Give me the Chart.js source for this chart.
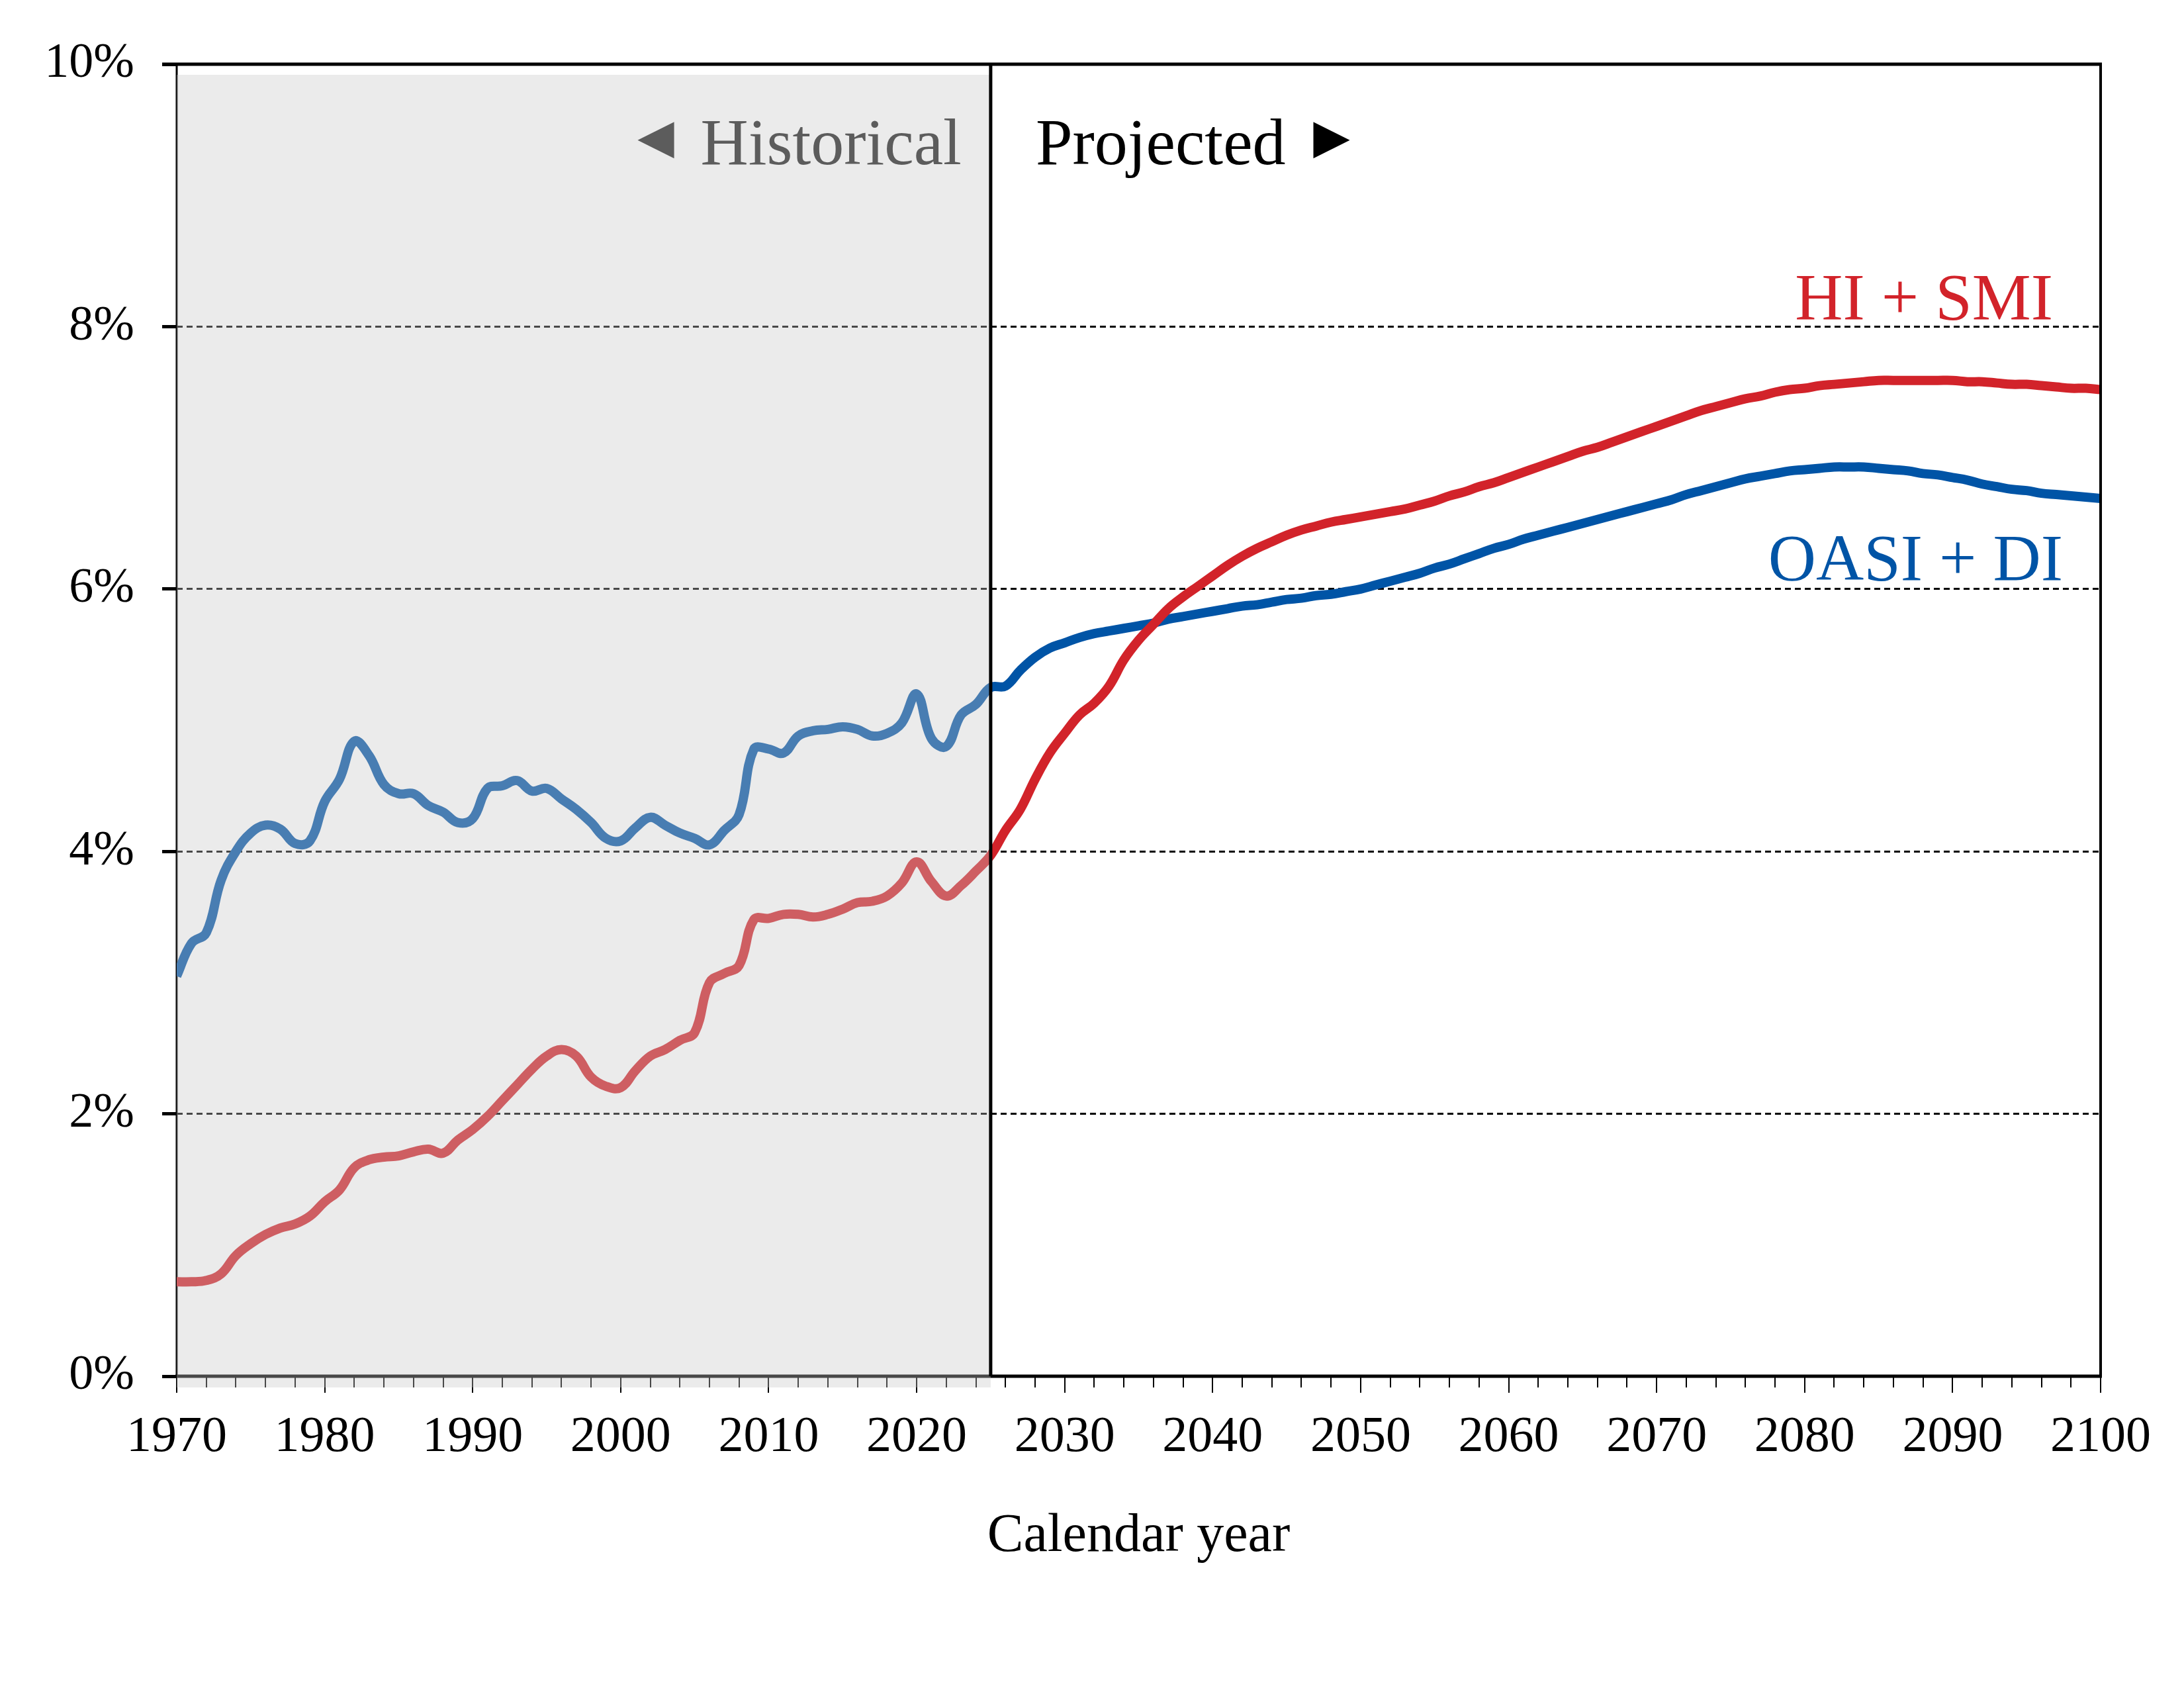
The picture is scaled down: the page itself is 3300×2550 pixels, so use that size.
<!DOCTYPE html>
<html>
<head>
<meta charset="utf-8">
<script src="https://cdn.jsdelivr.net/npm/chart.js@4.4.1/dist/chart.umd.min.js"></script>
<style>
  html, body { margin: 0; padding: 0; background: #fff; }
  canvas { display: block; }
</style>
</head>
<body>
<canvas id="chart" width="3300" height="2550"></canvas>
<script>
// years covered by the chart, historical part ends at splitYear
const firstYear = 1970;
const splitYear = 2025;
const lastYear = 2100;

// OASI + DI, percent, 1970-2025 (historical)
const oasiDiHist = [
  3.05, 3.30, 3.38, 3.78, 4.00, 4.14, 4.20, 4.17, 4.06, 4.08,
  4.38, 4.55, 4.84, 4.73, 4.51, 4.44, 4.44, 4.35, 4.30, 4.22,
  4.25, 4.48, 4.50, 4.54, 4.46, 4.48, 4.40, 4.32, 4.22, 4.10,
  4.08, 4.18, 4.26, 4.20, 4.14, 4.10, 4.05, 4.16, 4.28, 4.78,
  4.78, 4.75, 4.88, 4.92, 4.93, 4.95, 4.93, 4.88, 4.90, 4.98,
  5.20, 4.86, 4.80, 5.04, 5.12, 5.25
];
// OASI + DI, percent, 2026-2100 (projected)
const oasiDiProj = [
  5.26, 5.38, 5.48, 5.55, 5.59, 5.63, 5.66, 5.68, 5.70, 5.72,
  5.74, 5.77, 5.79, 5.81, 5.83, 5.85, 5.87, 5.88, 5.90, 5.92,
  5.93, 5.95, 5.96, 5.98, 6.00, 6.03, 6.06, 6.09, 6.12, 6.16,
  6.19, 6.23, 6.27, 6.31, 6.34, 6.38, 6.41, 6.44, 6.47, 6.50,
  6.53, 6.56, 6.59, 6.62, 6.65, 6.68, 6.72, 6.75, 6.78, 6.81,
  6.84, 6.86, 6.88, 6.90, 6.91, 6.92, 6.93, 6.93, 6.93, 6.92,
  6.91, 6.90, 6.88, 6.87, 6.85, 6.83, 6.80, 6.78, 6.76, 6.75,
  6.73, 6.72, 6.71, 6.70, 6.69
];
// HI + SMI, percent, 1970-2025 (historical)
const hiSmiHist = [
  0.72, 0.72, 0.73, 0.78, 0.92, 1.01, 1.08, 1.13, 1.16, 1.22,
  1.33, 1.42, 1.59, 1.65, 1.67, 1.68, 1.71, 1.73, 1.70, 1.80,
  1.88, 1.98, 2.10, 2.22, 2.34, 2.44, 2.49, 2.44, 2.28, 2.21,
  2.20, 2.33, 2.44, 2.49, 2.56, 2.62, 3.00, 3.07, 3.13, 3.48,
  3.49, 3.52, 3.52, 3.50, 3.52, 3.56, 3.61, 3.62, 3.66, 3.76,
  3.92, 3.77, 3.66, 3.74, 3.85, 3.97
];
// HI + SMI, percent, 2026-2100 (projected)
const hiSmiProj = [
  4.16, 4.32, 4.55, 4.75, 4.90, 5.04, 5.13, 5.26, 5.46, 5.61,
  5.73, 5.85, 5.94, 6.02, 6.10, 6.18, 6.25, 6.31, 6.36, 6.41,
  6.45, 6.48, 6.51, 6.53, 6.55, 6.57, 6.59, 6.61, 6.64, 6.67,
  6.71, 6.74, 6.78, 6.81, 6.85, 6.89, 6.93, 6.97, 7.01, 7.05,
  7.08, 7.12, 7.16, 7.20, 7.24, 7.28, 7.32, 7.36, 7.39, 7.42,
  7.45, 7.47, 7.50, 7.52, 7.53, 7.55, 7.56, 7.57, 7.58, 7.59,
  7.59, 7.59, 7.59, 7.59, 7.59, 7.58, 7.58, 7.57, 7.56, 7.56,
  7.55, 7.54, 7.53, 7.53, 7.52
];

const SERIF = "'Liberation Serif', 'Times New Roman', serif";
const RED = '#d2232a';
const BLUE = '#0054a6';

function toPoints(hist, proj) {
  return hist.concat(proj).map((v, i) => ({ x: firstYear + i, y: v }));
}

// borders, x tick marks, historical shading and labels
const framePlugin = {
  id: 'frame',
  beforeDatasetsDraw(chart) {
    const { ctx, chartArea: a, scales: { x } } = chart;
    ctx.save();
    ctx.strokeStyle = '#000';
    ctx.lineWidth = 3;
    ctx.beginPath();
    ctx.moveTo(a.left, a.top);
    ctx.lineTo(a.left, a.bottom);
    ctx.stroke();

    ctx.lineWidth = 2;
    x.ticks.forEach(t => {
      const px = Math.round(x.getPixelForValue(t.value));
      const len = t.value % 10 === 0 ? 25 : 17;
      ctx.beginPath();
      ctx.moveTo(px, a.bottom);
      ctx.lineTo(px, a.bottom + len);
      ctx.stroke();
    });

    ctx.lineWidth = 5;
    ctx.beginPath();
    ctx.moveTo(a.left - 2, a.bottom);
    ctx.lineTo(a.right + 2, a.bottom);
    ctx.stroke();
    ctx.restore();
  },
  afterDatasetsDraw(chart) {
    const { ctx, chartArea: a, scales: { x } } = chart;
    const xs = x.getPixelForValue(firstYear);
    const xe = x.getPixelForValue(splitYear);
    ctx.save();

    // grey veil over the historical period
    ctx.fillStyle = 'rgba(200,200,200,0.36)';
    ctx.fillRect(xs, a.top + 16, xe - xs, a.bottom - a.top + 1);

    ctx.strokeStyle = '#000';
    ctx.lineWidth = 5;
    ctx.beginPath();
    ctx.moveTo(a.left - 22, a.top);
    ctx.lineTo(a.right + 2, a.top);
    ctx.stroke();

    ctx.lineWidth = 4;
    ctx.beginPath();
    ctx.moveTo(a.right, a.top);
    ctx.lineTo(a.right, a.bottom);
    ctx.stroke();

    ctx.lineWidth = 5;
    ctx.beginPath();
    ctx.moveTo(xe, a.top);
    ctx.lineTo(xe, a.bottom);
    ctx.stroke();

    // Historical / Projected
    ctx.textBaseline = 'alphabetic';
    ctx.font = `100px ${SERIF}`;
    ctx.fillStyle = '#5c5c5c';
    ctx.textAlign = 'right';
    const hRight = xe - 44;
    ctx.fillText('Historical', hRight, 248);
    const hW = ctx.measureText('Historical').width;

    ctx.fillStyle = '#000';
    ctx.textAlign = 'left';
    const pLeft = xe + 68;
    ctx.fillText('Projected', pLeft, 248);
    const pW = ctx.measureText('Projected').width;

    ctx.font = `92px ${SERIF}`;
    ctx.textBaseline = 'middle';
    ctx.fillStyle = '#5c5c5c';
    ctx.textAlign = 'right';
    ctx.fillText('\u25C4', hRight - hW - 22, 214);
    ctx.fillStyle = '#000';
    ctx.textAlign = 'left';
    ctx.fillText('\u25BA', pLeft + pW + 24, 214);

    // series labels
    ctx.textBaseline = 'alphabetic';
    ctx.textAlign = 'right';
    ctx.font = `100px ${SERIF}`;
    ctx.fillStyle = RED;
    ctx.fillText('HI + SMI', 3102, 482);
    ctx.fillStyle = BLUE;
    ctx.fillText('OASI + DI', 3117, 876);
    ctx.restore();
  }
};

new Chart(document.getElementById('chart').getContext('2d'), {
  type: 'line',
  data: {
    datasets: [
      {
        label: 'HI + SMI',
        data: toPoints(hiSmiHist, hiSmiProj),
        borderColor: RED,
        borderWidth: 14,
        pointRadius: 0,
        tension: 0.4,
        fill: false
      },
      {
        label: 'OASI + DI',
        data: toPoints(oasiDiHist, oasiDiProj),
        borderColor: BLUE,
        borderWidth: 14,
        pointRadius: 0,
        tension: 0.4,
        fill: false
      }
    ]
  },
  options: {
    responsive: false,
    animation: false,
    layout: { padding: { top: 97, right: 126, left: 0, bottom: 0 } },
    plugins: {
      legend: { display: false },
      tooltip: { enabled: false }
    },
    scales: {
      x: {
        type: 'linear',
        min: firstYear,
        max: lastYear,
        ticks: {
          stepSize: 2,
          autoSkip: false,
          maxRotation: 0,
          padding: 39,
          color: '#000',
          font: { family: SERIF, size: 76 },
          callback: v => (v % 10 === 0 ? String(v) : '')
        },
        grid: { display: false },
        border: { display: false },
        title: {
          display: true,
          text: 'Calendar year',
          color: '#000',
          font: { family: SERIF, size: 82 },
          padding: { top: 0, bottom: 179 }
        },
        afterFit: s => { s.height = 471; }
      },
      y: {
        min: 0,
        max: 10,
        ticks: {
          stepSize: 2,
          padding: 42,
          color: '#000',
          font: { family: SERIF, size: 74 },
          callback: v => v + '%'
        },
        grid: {
          color: c => (c.tick && (c.tick.value === 0 || c.tick.value === 10)) ? 'rgba(0,0,0,0)' : '#000',
          lineWidth: 3,
          tickLength: 22,
          tickColor: '#000',
          tickWidth: 5
        },
        border: { display: false, dash: [9, 6] },
        afterFit: s => { s.width = 267; }
      }
    }
  },
  plugins: [framePlugin]
});
</script>
</body>
</html>
